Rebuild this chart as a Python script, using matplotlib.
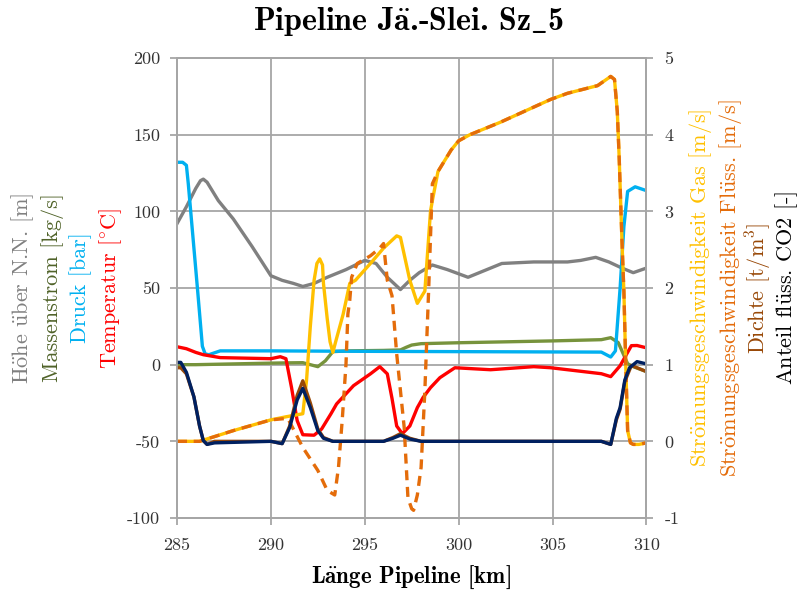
import numpy as np
import matplotlib
matplotlib.use("Agg")
import matplotlib.pyplot as plt

plt.rcParams['font.family'] = ['cmr10', 'DejaVu Serif']
plt.rcParams['mathtext.fontset'] = 'cm'
plt.rcParams['axes.unicode_minus'] = False
plt.rcParams['axes.formatter.use_mathtext'] = False

# --- data, left axis ---
hoehe_x = [285.0, 285.5, 286.0, 286.25, 286.4, 286.6, 286.8, 287.2, 288.0, 289.0, 290.0, 290.6, 291.2, 291.7,
           292.3, 293.0, 294.0, 295.0, 295.6, 296.2, 296.9, 297.4, 297.9, 298.6, 299.4, 300.5,
           301.3, 302.3, 304.0, 305.8, 306.5, 307.3, 308.0, 308.7, 309.3, 310.0]
hoehe = [92, 103, 115, 120, 121, 119, 115, 107, 95, 77, 58, 55, 53, 51,
         53, 57, 62, 68, 66, 57, 49, 55, 60, 65, 62, 57,
         61, 66, 67, 67, 68, 70, 67, 63, 60, 63]

mstrom_x = [285.0, 286.0, 288.0, 290.0, 291.0, 291.7, 292.1, 292.5, 292.9, 293.3, 294.1, 296.0,
            296.9, 297.2, 297.5, 298.0, 300.0, 305.0, 307.6, 308.1, 308.5, 309.0, 309.3, 310.0]
mstrom = [0.0, 0.0, 0.5, 1.0, 1.2, 1.3, 0.0, -1.3, 2.5, 8.5, 9.0, 9.3,
          9.6, 11.3, 12.8, 13.7, 14.3, 15.5, 16.3, 17.6, 14.4, 0.6, -1.3, -4.5]

druck_x = [285.0, 285.3, 285.5, 285.6, 285.8, 286.1, 286.35, 286.5, 286.7, 287.3, 290.0, 295.0,
           300.0, 307.6, 308.1, 308.35, 308.6, 308.8, 309.0, 309.4, 310.0]
druck = [132, 132, 130, 118, 90, 48, 12, 7, 6.5, 9, 9, 8.7,
         8.5, 8.2, 5.0, 9, 50, 90, 113, 116, 113.5]

temp_x = [285.0, 285.5, 286.0, 286.4, 287.3, 290.0, 290.5, 290.8, 291.1, 291.4, 291.7, 292.3,
          292.7, 293.2, 293.5, 294.4, 295.3, 295.8, 296.2, 296.45, 296.7, 297.0, 297.4, 297.8,
          298.1, 298.5, 299.0, 299.8, 301.7, 304.0, 304.9, 307.6, 308.1, 308.6, 309.2, 309.5, 310.0]
temp = [11.7, 10.4, 8.0, 6.5, 4.6, 3.9, 5.2, 3.9, -15, -36.5, -45.7, -46,
        -42, -32, -25.6, -13.7, -6, -1.3, -6, -22, -40, -45, -40, -28,
        -21.5, -15, -8.5, -2, -3.3, -1.3, -2, -5.9, -7.8, -0.7, 12.4, 12.5, 11]

# --- data, right axis ---
gas_x = [285.0, 286.2, 288.0, 290.0, 290.8, 291.7, 291.9, 292.1, 292.3, 292.45, 292.6, 292.75,
         292.8, 293.0, 293.15, 293.3, 293.45, 293.85, 294.2, 294.5, 295.3, 296.0, 296.7, 296.9,
         297.4, 297.8, 298.2, 298.5, 298.6, 298.9, 299.6, 300.0, 300.6, 302.2, 304.9, 305.8,
         307.4, 308.1, 308.3, 308.45, 308.55, 308.7, 308.8, 308.9, 309.0, 309.15, 309.3, 309.6, 310.0]
gas = [0.0, 0.0, 0.14, 0.28, 0.32, 0.36, 0.8, 1.5, 2.1, 2.32, 2.38, 2.3,
       2.06, 1.6, 1.3, 1.16, 1.3, 1.66, 2.06, 2.1, 2.32, 2.52, 2.68, 2.66,
       2.1, 1.8, 1.96, 3.0, 3.14, 3.52, 3.8, 3.92, 4.0, 4.16, 4.46, 4.54,
       4.64, 4.76, 4.72, 4.3, 3.7, 2.6, 1.96, 1.0, 0.14, -0.02, -0.04, -0.04, -0.02]

fl_x = [285.0, 286.2, 288.0, 290.0, 290.9, 291.7, 292.5, 293.0, 293.4, 293.6, 293.8, 294.0,
        294.1, 294.2, 294.3, 294.6, 295.3, 295.8, 296.0, 296.2, 296.45, 296.7, 297.1, 297.3,
        297.5, 297.6, 297.8, 298.0, 298.2, 298.4, 298.6, 298.9, 299.6, 300.0, 300.6, 302.2,
        304.9, 305.8, 307.4, 308.1, 308.3, 308.45, 308.55, 308.7, 308.8, 308.9, 309.0, 309.15,
        309.3, 309.6, 310.0]
fl = [0.0, 0.0, 0.14, 0.28, 0.3, -0.08, -0.38, -0.64, -0.7, -0.34, 0.28, 1.01,
      1.66, 1.84, 2.14, 2.32, 2.42, 2.52, 2.58, 2.1, 1.9, 1.14, 0.18, -0.74,
      -0.88, -0.9, -0.7, -0.34, 0.66, 1.96, 3.36, 3.52, 3.8, 3.92, 4.0, 4.16,
      4.46, 4.54, 4.64, 4.76, 4.72, 4.3, 3.7, 2.6, 1.96, 1.0, 0.14, -0.02,
      -0.04, -0.04, -0.02]

dichte_x = [285.0, 285.2, 285.5, 285.9, 286.2, 286.4, 286.6, 287.0, 290.0, 290.6, 291.0, 291.4,
            291.7, 292.1, 292.5, 292.8, 293.3, 296.0, 296.5, 296.9, 297.4, 298.0, 307.6, 308.1,
            308.4, 308.6, 308.85, 309.2, 309.5, 310.0]
dichte = [0.96, 0.96, 0.88, 0.58, 0.2, 0.01, -0.04, 0.0, 0.0, -0.03, 0.2, 0.6,
          0.79, 0.5, 0.16, 0.05, 0.0, 0.0, 0.05, 0.1, 0.04, 0.0, 0.0, -0.04,
          0.28, 0.42, 0.78, 0.99, 0.96, 0.91]

anteil_x = [285.0, 285.2, 285.5, 285.9, 286.2, 286.4, 286.6, 287.0, 290.0, 290.6, 291.0, 291.4,
            291.7, 292.1, 292.5, 292.8, 293.3, 296.0, 296.5, 296.9, 297.4, 298.0, 307.6, 308.1,
            308.4, 308.6, 308.85, 309.1, 309.5, 310.0]
anteil = [1.03, 1.03, 0.9, 0.58, 0.2, 0.01, -0.04, -0.02, 0.0, -0.03, 0.18, 0.54,
          0.69, 0.44, 0.14, 0.04, 0.0, 0.0, 0.04, 0.08, 0.03, 0.0, 0.0, -0.04,
          0.3, 0.44, 0.8, 0.96, 1.04, 1.01]


def cm(s, bold=False):
    # umlauts are not in the BaKoMa cm fonts, build them with mathtext accents
    f = r'\mathbf' if bold else r'\mathrm'
    for u, b in (('ä', 'a'), ('ö', 'o'), ('ü', 'u')):
        s = s.replace(u, r'$\ddot{%s{%s}}$' % (f, b))
    return s


fig = plt.figure(figsize=(8.01, 5.92), dpi=100)
ax1 = fig.add_axes([0.221, 0.125, 0.586, 0.777])
ax2 = ax1.twinx()

lw = 2.4
ax1.plot(hoehe_x, hoehe, color='#808080', lw=lw)
ax1.plot(mstrom_x, mstrom, color='#77933C', lw=lw)
ax1.plot(druck_x, druck, color='#00B0F0', lw=lw)
ax1.plot(temp_x, temp, color='#FF0000', lw=lw)

ax2.plot(gas_x, gas, color='#FFC000', lw=lw)
ax2.plot(fl_x, fl, color='#E46C0A', lw=lw, dashes=(3, 2))
ax2.plot(dichte_x, dichte, color='#984807', lw=lw)
ax2.plot(anteil_x, anteil, color='#002060', lw=lw)

gc = '#A6A6A6'
ax1.set_xlim(285, 310)
ax1.set_ylim(-100, 200)
ax2.set_ylim(-1, 5)
ax1.set_xticks(np.arange(285, 311, 5))
ax1.set_yticks(np.arange(-100, 201, 50))
ax2.set_yticks(np.arange(-1, 6, 1))
ax1.grid(True, color=gc, lw=1.3)
ax1.set_axisbelow(True)
for a in (ax1, ax2):
    for s in a.spines.values():
        s.set_color(gc)
        s.set_linewidth(1.3)
    a.tick_params(colors=gc, labelcolor='#333333', labelsize=13, length=5, width=1.3)
ax1.tick_params(axis='y', pad=7)
ax1.tick_params(axis='x', pad=9)
ax2.tick_params(axis='y', pad=8)

fs = 16
yc = 1 - 288 / 592
fig.text(23 / 801, yc, cm('Höhe über N.N. [m]'), rotation=90, color='#808080', fontsize=fs, ha='center', va='center')
fig.text(53 / 801, yc, 'Massenstrom [kg/s]', rotation=90, color='#4F6228', fontsize=fs, ha='center', va='center')
fig.text(81 / 801, yc, 'Druck [bar]', rotation=90, color='#00B0F0', fontsize=fs, ha='center', va='center')
fig.text(111 / 801, yc, r'Temperatur [$^{\circ}$C]', rotation=90, color='#FF0000', fontsize=fs, ha='center', va='center')

fig.text(701 / 801, yc, cm('Strömungsgeschwindigkeit Gas [m/s]'), rotation=90, color='#FFC000', fontsize=fs, ha='center', va='center')
fig.text(730 / 801, yc, cm('Strömungsgeschwindigkeit Flüss. [m/s]'), rotation=90, color='#E46C0A', fontsize=fs, ha='center', va='center')
fig.text(759 / 801, yc, 'Dichte [t/m$^3$]', rotation=90, color='#984807', fontsize=fs, ha='center', va='center')
fig.text(787 / 801, yc, cm('Anteil flüss. CO2 [-]'), rotation=90, color='#000000', fontsize=fs, ha='center', va='center')

fig.text(408 / 801, 1 - 22 / 592, cm('Pipeline Jä.-Slei. Sz', True) + r'$\_$' + '5', fontsize=23,
         ha='center', va='center', family=['cmb10', 'DejaVu Serif'])
fig.text(411 / 801, 1 - 577 / 592, cm('Länge Pipeline [km]', True), fontsize=16.5, ha='center', va='center',
         family=['cmb10', 'DejaVu Serif'])

fig.savefig('out.png', dpi=100)
